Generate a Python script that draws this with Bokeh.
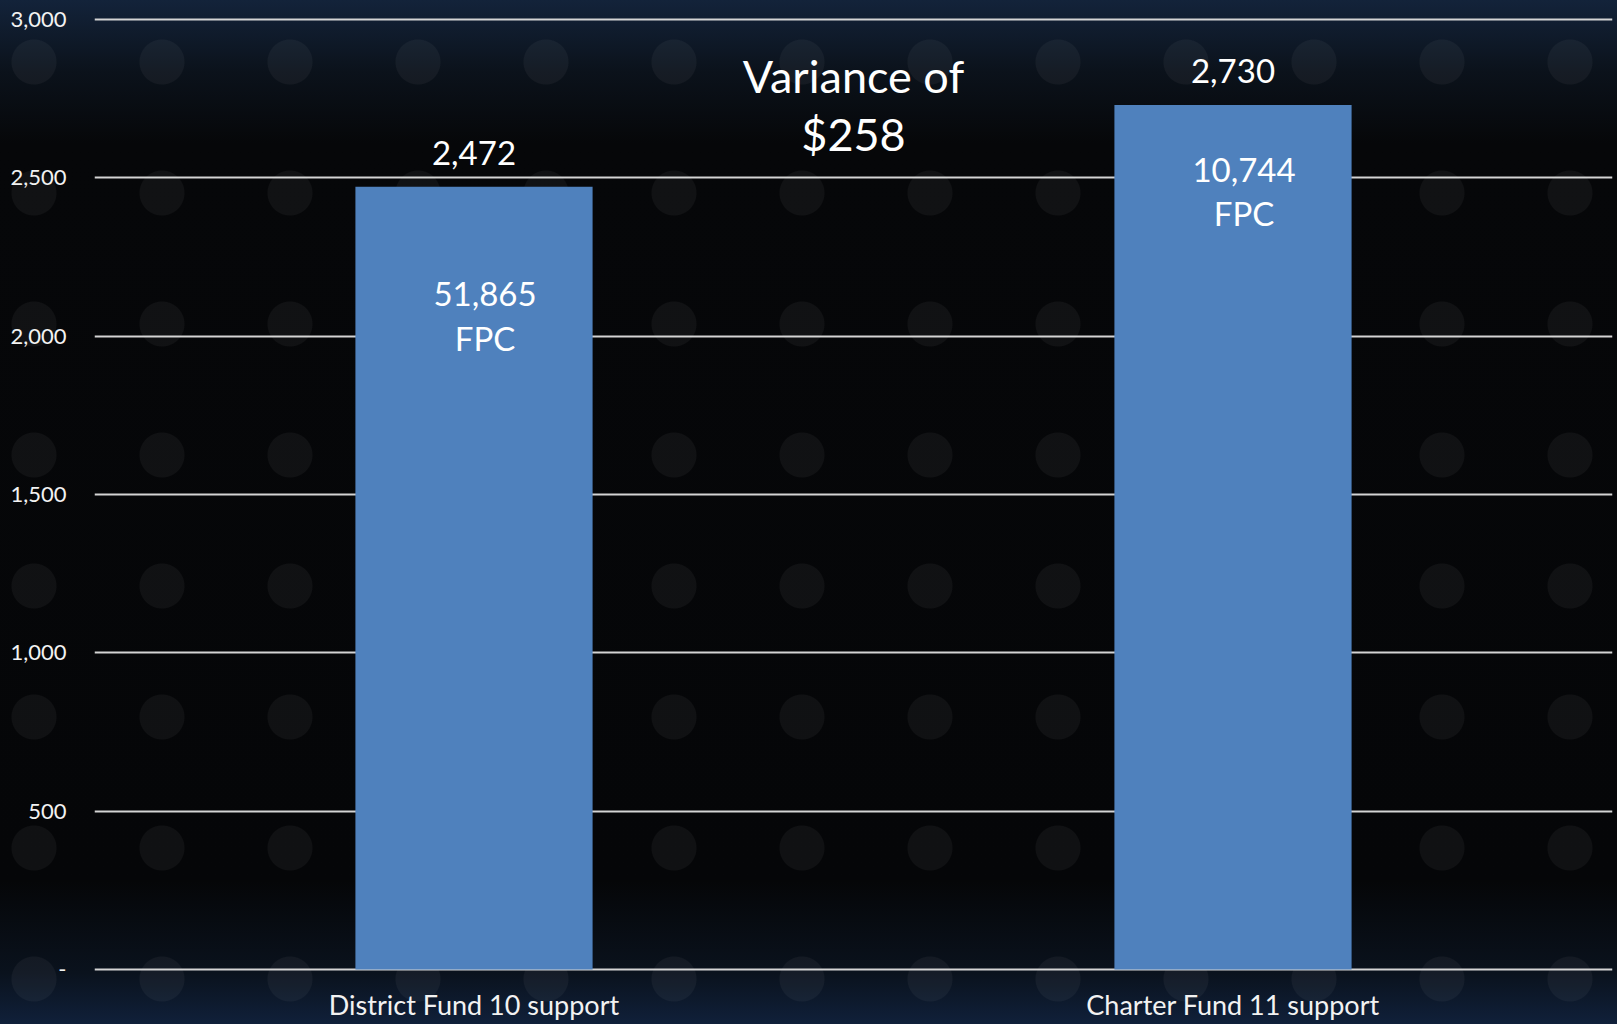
from bokeh.plotting import figure
from bokeh.models import FactorRange, Range1d, FixedTicker, CustomJSTickFormatter, ColumnDataSource
from bokeh.core.properties import value
from bokeh.embed import file_html
from bokeh.resources import INLINE

# ---- data ----
categories = ["District Fund 10 support", "Charter Fund 11 support"]
support_values = [2472, 2730]
fpc_counts = ["51,865", "10,744"]
y_ticks = [0, 500, 1000, 1500, 2000, 2500, 3000]

# ---- layout constants (annotation placement) ----
inner_label_y = [2065, 2458]
FONT = "Lato"
BAR_COLOR = "#4F81BD"

p = figure(
    x_range=FactorRange(factors=categories),
    y_range=Range1d(-6, 3006),
    width=1617, height=1024,
    output_backend="svg", toolbar_location=None,
    min_border_left=94, min_border_right=5, min_border_top=17, min_border_bottom=53,
)
p.background_fill_alpha = 0
p.border_fill_alpha = 0
p.outline_line_color = None
p.styles = {
    "background": (
        "radial-gradient(circle at 34px 62px, rgba(255,255,255,0.045) 0 22px, rgba(0,0,0,0) 23px) 0 0 / 128px 131px, "
        "linear-gradient(to bottom, #13233a 0%, #0b121b 7%, #060709 14%, #050608 86%, #0a121d 95%, #10203a 100%)"
    ),
}

src = ColumnDataSource(dict(
    x=categories, top=support_values,
    top_label=[f"{v:,}" for v in support_values],
    inner=[f"{c}\nFPC" for c in fpc_counts],
    inner_y=inner_label_y,
))

p.vbar(x="x", top="top", width=0.3125, source=src, fill_color=BAR_COLOR, line_color=None)

# value labels above bars
p.text(x="x", y="top", text="top_label", source=src, y_offset=-34,
       text_font=value(FONT), text_font_size="33px", text_color="white",
       text_align="center", text_baseline="middle")

# FPC labels inside bars
p.text(x="x", y="inner_y", text="inner", source=src, x_offset=11,
       text_font=value(FONT), text_font_size="33px", text_color="white",
       text_align="center", text_baseline="middle", text_line_height=1.12)

# variance annotation
variance = support_values[1] - support_values[0]
p.text(x=[1.0], y=[support_values[1]], text=[f"Variance of\n${variance:,}"],
       text_font=value(FONT), text_font_size="45px", text_color="white",
       text_align="center", text_baseline="middle", text_line_height=1.06)

# axes
p.yaxis.ticker = FixedTicker(ticks=y_ticks)
p.yaxis.formatter = CustomJSTickFormatter(code="return tick == 0 ? '-' : tick.toLocaleString('en-US');")
p.yaxis.axis_line_color = None
p.yaxis.major_tick_line_color = None
p.yaxis.minor_tick_line_color = None
p.yaxis.major_label_standoff = 22
p.yaxis.major_label_text_font = FONT
p.yaxis.major_label_text_font_size = "22px"
p.yaxis.major_label_text_color = "#f2f2f2"

p.xaxis.axis_line_color = None
p.xaxis.major_tick_line_color = None
p.xaxis.minor_tick_line_color = None
p.xaxis.major_label_standoff = 10
p.xaxis.major_label_text_font = FONT
p.xaxis.major_label_text_font_size = "27px"
p.xaxis.major_label_text_color = "#f2f2f2"

p.xgrid.grid_line_color = None
p.ygrid.grid_line_color = "#d4d4d4"
p.ygrid.grid_line_width = 2

open("out.html", "w").write(file_html(p, INLINE))
